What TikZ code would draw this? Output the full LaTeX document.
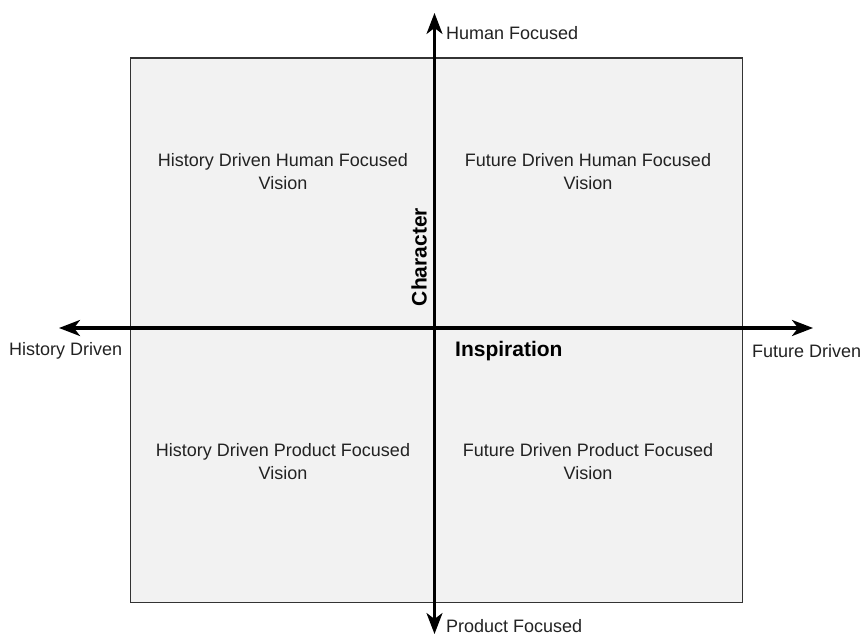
\documentclass[tikz,border=0pt]{standalone}
\usepackage{fontspec}
\setmainfont{Liberation Sans}
\usetikzlibrary{arrows.meta}
\definecolor{quadfill}{HTML}{F2F2F2}
\definecolor{inkgray}{HTML}{222222}
\begin{document}
\begin{tikzpicture}[x=1pt,y=-1pt,
  plain/.style={font=\fontsize{18}{23}\selectfont, text=inkgray, inner sep=0pt},
  quad/.style={plain, align=center},
  axistitle/.style={font=\fontsize{21}{24}\selectfont\bfseries, text=black, inner sep=0pt},
  axisline/.style={draw=black, -{Stealth[length=21pt,width=16pt,inset=6pt]}}]
\useasboundingbox (0,0) rectangle (862,636);
% background field
\node[draw=black!80, line width=1.2pt, fill=quadfill, minimum width=612pt, minimum height=544pt, inner sep=0pt, anchor=north west] (field) at (130,57.5) {};
% axis end points
\coordinate (left) at (59,328);
\coordinate (right) at (813,328);
\coordinate (top) at (434.5,13);
\coordinate (bottom) at (434.5,634);
\coordinate (origin) at (434.5,328);
% axes
\draw[axisline, line width=3.2pt] (origin) -- (right);
\draw[axisline, line width=3.2pt] (origin) -- (left);
\draw[axisline, line width=2.4pt] (origin) -- (top);
\draw[axisline, line width=2.4pt] (origin) -- (bottom);
% axis end labels
\node[plain, anchor=west] (hf) at (446,33) {Human Focused};
\node[plain, anchor=west] (pf) at (446,626) {Product Focused};
\node[plain, anchor=west] (hd) at (9,351) {History Driven};
\node[plain, anchor=west] (fd) at (752,351) {Future Driven};
% axis titles
\node[axistitle, anchor=west] (insp) at (455,351) {Inspiration};
\node[axistitle, rotate=90] (char) at (419,257) {Character};
% quadrant labels
\node[quad] (q1) at (283,172) {History Driven Human Focused\\Vision};
\node[quad] (q2) at (588,172) {Future Driven Human Focused\\Vision};
\node[quad] (q3) at (283,462) {History Driven Product Focused\\Vision};
\node[quad] (q4) at (588,462) {Future Driven Product Focused\\Vision};
\end{tikzpicture}
\end{document}
